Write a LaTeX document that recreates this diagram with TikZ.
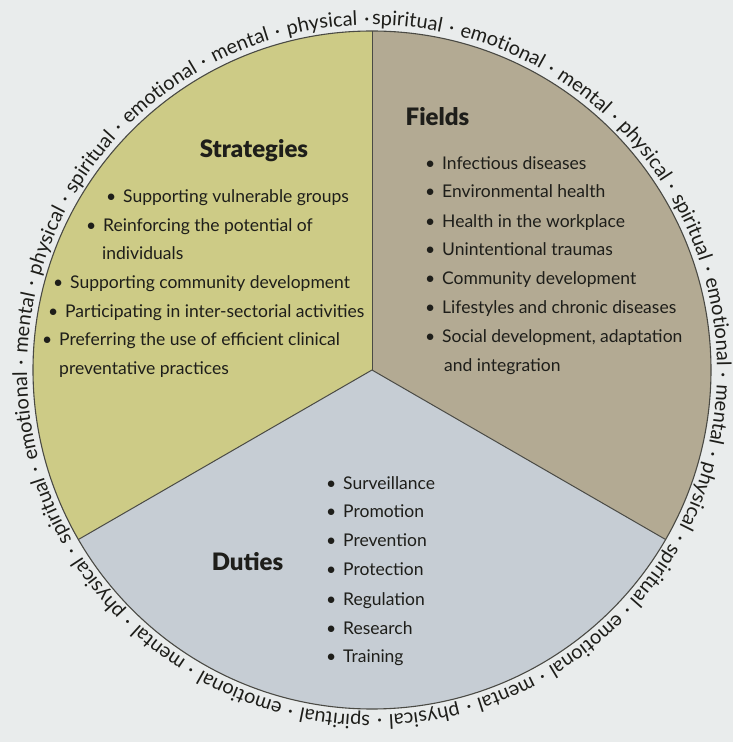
\documentclass[tikz,border=0pt]{standalone}
\usepackage{fontspec}
\setmainfont{Lato}[BoldFont={Lato Black}]
\usetikzlibrary{decorations.text}
\definecolor{bg}{HTML}{E9ECEC}
\definecolor{strat}{HTML}{CDCB86}
\definecolor{fields}{HTML}{B3AA93}
\definecolor{duties}{HTML}{C6CDD4}
\definecolor{outline}{HTML}{4A4A44}
\definecolor{ink}{HTML}{1E1E1A}
\newcommand{\ringfont}{\fontsize{20}{22}\selectfont}
\newcommand{\bul}{\llap{\textbullet\hspace{7pt}}}
\begin{document}
\begin{tikzpicture}[x=1pt,y=1pt,
  item/.style={anchor=base west, inner sep=0pt, font=\fontsize{17.5}{20}\selectfont, text=ink},
  heading/.style={inner sep=0pt, font=\fontsize{24}{26}\selectfont\bfseries, text=ink},
  divider/.style={draw=outline, line width=1pt}]
\useasboundingbox (0,0) rectangle (733,742);
\fill[bg] (0,0) rectangle (733,742);
\coordinate (C) at (372,372);
\coordinate (P1) at (372,711);
\path (C) ++(210:339) coordinate (P2);
\path (C) ++(330:339) coordinate (P3);
\fill[strat] (C) -- (P1) arc[start angle=90,end angle=210,radius=339] -- cycle;
\fill[fields] (C) -- (P1) arc[start angle=90,end angle=-30,radius=339] -- cycle;
\fill[duties] (C) -- (P2) arc[start angle=210,end angle=330,radius=339] -- cycle;
\draw[divider] (C) -- (P1);
\draw[divider] (C) -- (P2);
\draw[divider] (C) -- (P3);
\draw[outline, line width=1.1pt] (C) circle[radius=339];
\path[decorate, decoration={text along path, text align={fit to path stretching spaces},
  text={|\ringfont\color{ink}|spiritual · emotional · mental · physical · spiritual · emotional · mental · physical · spiritual · emotional · mental · physical · spiritual · emotional · mental · physical · spiritual · emotional · mental · physical · spiritual · emotional · mental · physical ·}}]
  (372,717) arc[start angle=90, end angle=-269.3, radius=345];
% Strategies
\node[heading] (st) at (254,591.5) {Strategies};
\node[item] (s1) at (123,539) {\bul Supporting vulnerable groups};
\node[item] (s2) at (103,510) {\bul Reinforcing the potential of};
\node[item] (s2b) at (102,482) {individuals};
\node[item] (s3) at (70,453) {\bul Supporting community development};
\node[item] (s4) at (65,424) {\bul Participating in inter-sectorial activities};
\node[item] (s5) at (59,396) {\bul Preferring the use of efficient clinical};
\node[item] (s5b) at (59,367) {preventative practices};
% Fields
\node[heading] (fi) at (437.5,625) {Fields};
\node[item] (f1) at (442,572) {\bul Infectious diseases};
\node[item] (f2) at (442,544) {\bul Environmental health};
\node[item] (f3) at (442,514) {\bul Health in the workplace};
\node[item] (f4) at (442,486) {\bul Unintentional traumas};
\node[item] (f5) at (442,457) {\bul Community development};
\node[item] (f6) at (442,428) {\bul Lifestyles and chronic diseases};
\node[item] (f7) at (442,399) {\bul Social development, adaptation};
\node[item] (f7b) at (444,370) {and integration};
% Duties
\node[heading] (du) at (247.5,180) {Duties};
\node[item] (d1) at (343,252) {\bul Surveillance};
\node[item] (d2) at (343,224) {\bul Promotion};
\node[item] (d3) at (343,195) {\bul Prevention};
\node[item] (d4) at (343,166) {\bul Protection};
\node[item] (d5) at (343,136) {\bul Regulation};
\node[item] (d6) at (343,107) {\bul Research};
\node[item] (d7) at (343,79) {\bul Training};
\end{tikzpicture}
\end{document}
